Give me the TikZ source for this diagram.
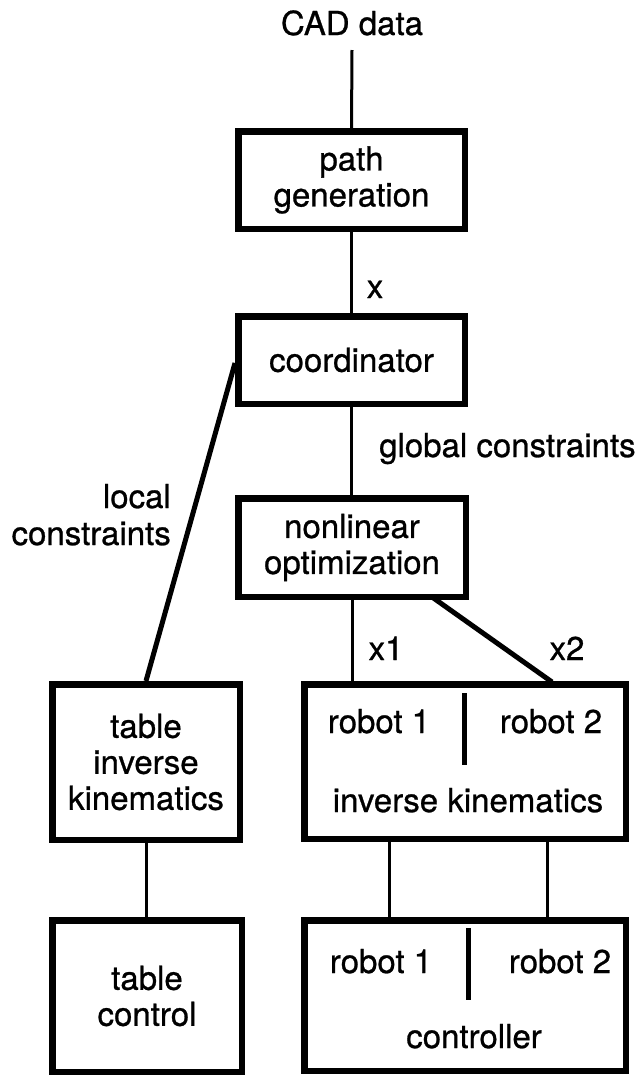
\documentclass[tikz,border=0pt]{standalone}
\usepackage{fontspec}
\setmainfont{TeX Gyre Heros}[BoldFont={TeX Gyre Heros}, BoldFeatures={FakeBold=0.8}]
\usetikzlibrary{calc}
\newcommand\lblfont{\fontsize{33}{36}\selectfont\bfseries}
\begin{document}
\begin{tikzpicture}[x=1pt,y=-1pt,
  box/.style={draw, line width=6.5pt, inner sep=0pt, align=center, font=\lblfont},
  lbl/.style={inner sep=0pt, font=\lblfont},
  conn/.style={line width=3pt},
  heavyconn/.style={line width=5pt},
  divider/.style={line width=5pt}]
\useasboundingbox (0,0) rectangle (639,1077);
% boxes
\node[box, minimum width=226.5pt, minimum height=97.5pt] (path) at (351.5,180) {path\\generation};
\node[box, minimum width=226.5pt, minimum height=87.5pt] (coord) at (351.5,360) {coordinator};
\node[box, minimum width=227.5pt, minimum height=98.5pt] (nl) at (352,547.5) {nonlinear\\optimization};
\node[box, minimum width=187.5pt, minimum height=155.5pt] (tik) at (146,762) {table\\inverse\\kinematics};
\node[box, minimum width=321.5pt, minimum height=154.5pt] (rik) at (465,761.5) {};
\node[box, minimum width=189.5pt, minimum height=151.5pt] (tc) at (147,996) {table\\control};
\node[box, minimum width=321.5pt, minimum height=150.5pt] (ctl) at (465,995.5) {};
% texts inside split boxes
\node[lbl, anchor=base] (rik1) at (379,733) {robot 1};
\node[lbl, anchor=base] (rik2) at (551,733) {robot 2};
\node[lbl, anchor=base] (rikt) at (468,812) {inverse kinematics};
\node[lbl, anchor=base] (ctl1) at (381,973) {robot 1};
\node[lbl, anchor=base] (ctl2) at (560,973) {robot 2};
\node[lbl, anchor=base] (ctlt) at (474,1048) {controller};
% dividers
\coordinate (rbA) at (464,693); \coordinate (rbB) at (464,765);
\coordinate (cbA) at (468,928); \coordinate (cbB) at (468,1000);
\draw[divider] (rbA) -- (rbB);
\draw[divider] (cbA) -- (cbB);
% labels
\node[lbl, anchor=base] (cad) at (352,35) {CAD data};
\coordinate (cadend) at (352,50);
\node[lbl, anchor=base] (xl) at (375,298) {x};
\node[lbl, anchor=base west] (gc) at (379,457) {global constraints};
\node[lbl, anchor=base east] (lc1) at (171,508) {local};
\node[lbl, anchor=base east] (lc2) at (171,545) {constraints};
\node[lbl, anchor=base] (x1l) at (386,660) {x1};
\node[lbl, anchor=base] (x2l) at (567,660) {x2};
% connectors
\draw[conn] (cadend) -- (path.north);
\draw[conn] (path.south) -- (path.south |- coord.north);
\draw[conn] (coord.south) -- (coord.south |- nl.north);
\draw[heavyconn] ($(coord.west)+(0,3)$) -- (tik.north);
\draw[conn] (nl.south) -- (nl.south |- rik.north);
\coordinate (x2a) at (432,597);
\coordinate (x2b) at (552,682);
\draw[heavyconn] (x2a) -- (x2b);
\draw[conn] (tik.south) -- (tik.south |- tc.north);
\draw[conn] ($(rik.south)+(-76,0)$) -- ($(ctl.north)+(-76,0)$);
\draw[conn] ($(rik.south)+(82,0)$) -- ($(ctl.north)+(82,0)$);
\end{tikzpicture}
\end{document}
